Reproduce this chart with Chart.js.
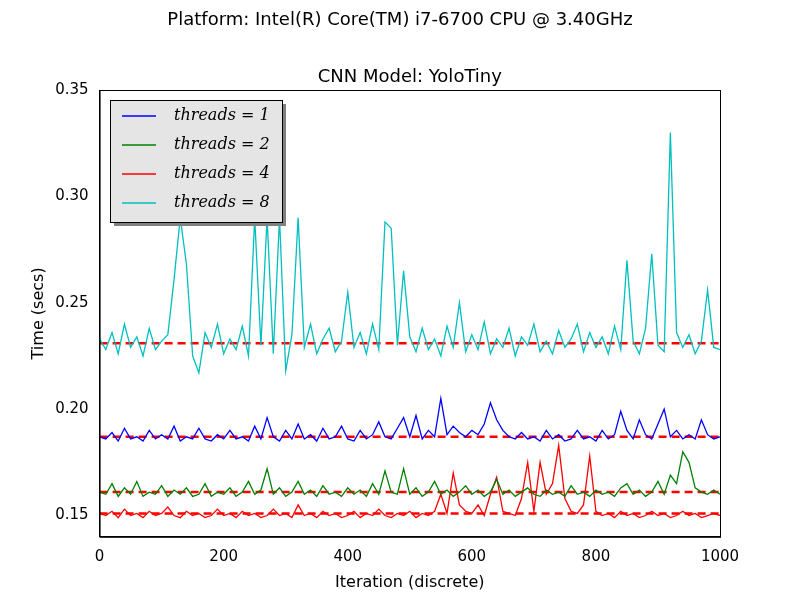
<!DOCTYPE html>
<html>
<head>
<meta charset="utf-8">
<script src="https://cdn.jsdelivr.net/npm/chart.js@4"></script>
<style>
  body { margin: 0; background: #fff; }
  #wrap { width: 800px; height: 600px; position: relative; }
</style>
</head>
<body>
<div id="wrap"><canvas id="chart" width="800" height="600"></canvas></div>
<script>
// iterations sampled every 10 steps
const iterations = [];
for (let i = 0; i <= 1000; i += 10) iterations.push(i);

const labels = ['threads = 1', 'threads = 2', 'threads = 4', 'threads = 8'];
const colors = ['#0000ff', '#008000', '#ff0000', '#00bfbf'];
const means = [0.187, 0.161, 0.151, 0.231];

const threads1 = [0.187,0.186,0.189,0.185,0.191,0.186,0.187,0.185,0.190,0.186,0.188,0.186,0.192,0.185,0.187,0.186,0.191,0.186,0.185,0.188,
  0.186,0.190,0.186,0.187,0.185,0.192,0.186,0.196,0.187,0.185,0.190,0.186,0.193,0.186,0.188,0.185,0.191,0.186,0.187,0.192,
  0.186,0.185,0.190,0.186,0.188,0.194,0.187,0.186,0.191,0.196,0.187,0.197,0.186,0.190,0.187,0.205,0.188,0.192,0.189,0.187,
  0.190,0.188,0.193,0.203,0.195,0.190,0.187,0.186,0.189,0.186,0.187,0.185,0.190,0.186,0.188,0.185,0.186,0.190,0.186,0.187,
  0.185,0.190,0.186,0.188,0.199,0.190,0.186,0.195,0.188,0.186,0.193,0.200,0.187,0.190,0.186,0.188,0.186,0.195,0.188,0.186,0.187];
const threads2 = [0.161,0.160,0.165,0.159,0.163,0.160,0.166,0.159,0.161,0.160,0.164,0.159,0.162,0.160,0.163,0.159,0.160,0.165,0.159,0.161,
  0.160,0.163,0.159,0.161,0.166,0.160,0.162,0.172,0.160,0.163,0.159,0.161,0.166,0.160,0.162,0.159,0.164,0.160,0.161,0.159,
  0.163,0.160,0.162,0.159,0.165,0.160,0.171,0.161,0.160,0.172,0.160,0.163,0.159,0.161,0.166,0.160,0.162,0.159,0.161,0.164,
  0.160,0.162,0.159,0.161,0.167,0.160,0.162,0.159,0.161,0.163,0.160,0.159,0.162,0.160,0.161,0.159,0.164,0.160,0.161,0.159,
  0.162,0.160,0.161,0.159,0.163,0.165,0.160,0.162,0.159,0.161,0.166,0.160,0.169,0.165,0.180,0.175,0.163,0.161,0.160,0.162,0.160];
const threads4 = [0.151,0.150,0.152,0.149,0.153,0.150,0.151,0.149,0.152,0.150,0.151,0.154,0.150,0.149,0.152,0.150,0.151,0.149,0.150,0.153,
  0.150,0.151,0.149,0.152,0.150,0.151,0.149,0.150,0.153,0.150,0.151,0.149,0.155,0.150,0.151,0.149,0.152,0.150,0.151,0.149,
  0.150,0.152,0.149,0.151,0.150,0.153,0.150,0.149,0.151,0.150,0.152,0.149,0.151,0.150,0.152,0.160,0.151,0.170,0.155,0.152,
  0.151,0.155,0.150,0.160,0.168,0.152,0.151,0.150,0.158,0.175,0.152,0.175,0.160,0.165,0.183,0.158,0.152,0.151,0.155,0.178,
  0.152,0.150,0.151,0.149,0.152,0.150,0.151,0.149,0.150,0.152,0.150,0.151,0.149,0.150,0.152,0.150,0.151,0.149,0.150,0.151,0.150];
const threads8 = [0.233,0.228,0.236,0.226,0.240,0.229,0.234,0.225,0.238,0.228,0.232,0.235,0.261,0.290,0.268,0.225,0.217,0.236,0.229,0.240,
  0.226,0.233,0.228,0.239,0.225,0.290,0.230,0.290,0.226,0.290,0.218,0.235,0.290,0.229,0.240,0.226,0.233,0.238,0.227,0.232,
  0.255,0.229,0.236,0.226,0.240,0.228,0.288,0.285,0.230,0.265,0.234,0.227,0.238,0.228,0.233,0.225,0.239,0.229,0.250,0.227,
  0.235,0.228,0.241,0.226,0.233,0.229,0.238,0.225,0.234,0.230,0.240,0.227,0.232,0.226,0.237,0.229,0.233,0.240,0.227,0.236,
  0.229,0.234,0.226,0.239,0.228,0.270,0.232,0.226,0.238,0.273,0.230,0.227,0.330,0.236,0.229,0.235,0.226,0.232,0.256,0.229,0.228];

const series = [threads1, threads2, threads4, threads8];

const datasets = [];
series.forEach((vals, k) => {
  datasets.push({
    label: labels[k],
    data: vals.map((v, i) => ({ x: iterations[i], y: v })),
    borderColor: colors[k], borderWidth: 1.3, pointRadius: 0, tension: 0
  });
});
means.forEach(m => {
  datasets.push({
    label: 'mean',
    data: [{ x: 0, y: m }, { x: 1000, y: m }],
    borderColor: '#ff0000', borderWidth: 2.5, borderDash: [8, 5], pointRadius: 0
  });
});

const decor = {
  id: 'decor',
  afterDraw(chart) {
    const c = chart.ctx;
    const a = chart.chartArea;
    c.save();
    // frame and titles
    c.strokeStyle = '#000'; c.lineWidth = 1;
    c.strokeRect(a.left + 0.5, a.top + 0.5, a.right - a.left, a.bottom - a.top);
    c.fillStyle = '#000';
    c.font = '18px "DejaVu Sans"';
    c.textAlign = 'center'; c.textBaseline = 'middle';
    c.fillText('Platform: Intel(R) Core(TM) i7-6700 CPU @ 3.40GHz', 400, 20);
    c.fillText('CNN Model: YoloTiny', (a.left + a.right) / 2, 77);
    // legend
    const x = 110, y = 100, w = 172, h = 122;
    c.textAlign = 'left';
    c.fillStyle = '#808080';
    c.fillRect(x + 4, y + 4, w, h);
    c.fillStyle = '#e5e5e5';
    c.fillRect(x, y, w, h);
    c.strokeRect(x + 0.5, y + 0.5, w, h);
    labels.forEach((t, k) => {
      const ly = y + 16 + k * 29;
      c.strokeStyle = colors[k];
      c.lineWidth = 1.3;
      c.beginPath(); c.moveTo(x + 12, ly); c.lineTo(x + 46, ly); c.stroke();
      c.fillStyle = '#000';
      c.font = 'italic 16px "DejaVu Serif"';
      c.fillText(t, x + 64, ly);
    });
    c.restore();
  }
};

new Chart(document.getElementById('chart'), {
  type: 'line',
  data: { datasets },
  options: {
    responsive: false, animation: false,
    layout: { padding: { left: 25, right: 80, top: 90, bottom: 4 } },
    plugins: { legend: { display: false }, tooltip: { enabled: false } },
    scales: {
      x: {
        type: 'linear', min: 0, max: 1000,
        ticks: { stepSize: 200, color: '#000', font: { size: 15, family: 'DejaVu Sans' }, callback: v => String(v) },
        grid: { display: false }, border: { color: '#000' },
        title: { display: true, text: 'Iteration (discrete)', color: '#000', font: { size: 16, family: 'DejaVu Sans' } }
      },
      y: {
        min: 0.14, max: 0.35,
        afterBuildTicks: ax => { ax.ticks = [0.15, 0.2, 0.25, 0.3, 0.35].map(v => ({ value: v })); },
        ticks: { color: '#000', font: { size: 15, family: 'DejaVu Sans' }, callback: v => v.toFixed(2) },
        grid: { display: false }, border: { color: '#000' },
        title: { display: true, text: 'Time (secs)', color: '#000', font: { size: 16, family: 'DejaVu Sans' } }
      }
    }
  },
  plugins: [decor]
});
</script>
</body>
</html>
